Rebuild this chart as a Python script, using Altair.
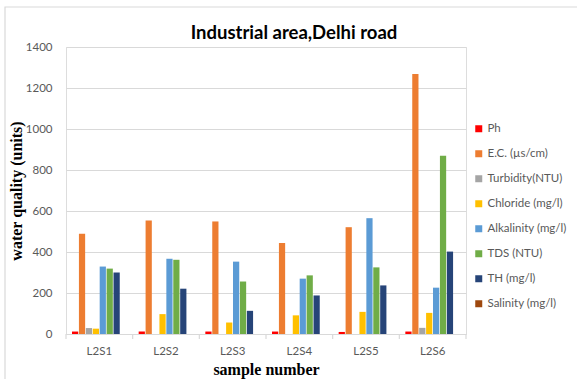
import altair as alt
import pandas as pd

samples = ["L2S1", "L2S2", "L2S3", "L2S4", "L2S5", "L2S6"]
params = ["Ph", "E.C. (µs/cm)", "Turbidity(NTU)", "Chloride (mg/l)",
          "Alkalinity (mg/l)", "TDS (NTU)", "TH (mg/l)", "Salinity (mg/l)"]
colors = ["#FF0000", "#ED7D31", "#A5A5A5", "#FFC000",
          "#5B9BD5", "#70AD47", "#264478", "#9E480E"]

ph = [12, 12, 12, 12, 10, 12]
ec = [489, 554, 549, 444, 521, 1268]
turbidity = [29, 0, 0, 0, 0, 30]
chloride = [26, 97, 56, 91, 108, 103]
alkalinity = [329, 367, 353, 270, 565, 226]
tds = [319, 362, 256, 286, 325, 869]
th = [300, 221, 113, 188, 237, 402]
salinity = [0, 0, 0, 0, 0, 0]

title_text = "Industrial area,Delhi road"

series = [ph, ec, turbidity, chloride, alkalinity, tds, th, salinity]
rows = []
for p, vals in zip(params, series):
    for s, v in zip(samples, vals):
        rows.append({"sample": s, "param": p, "value": v})
df = pd.DataFrame(rows)

y_ticks = [0, 200, 400, 600, 800, 1000, 1200, 1400]
LABEL_FONT = "Lato"
GRAY = "#595959"

bars = alt.Chart(df).mark_bar().encode(
    x=alt.X("sample:N", sort=samples,
            scale=alt.Scale(paddingInner=0.18, paddingOuter=0.09),
            axis=alt.Axis(title="sample number", labelAngle=0, ticks=False,
                          domainColor="#d9d9d9", domainWidth=1.2,
                          labelFont=LABEL_FONT, labelFontSize=11.5,
                          labelColor=GRAY, labelPadding=11,
                          titleFont="Liberation Serif", titleFontSize=16,
                          titleFontWeight="bold", titleColor="#000000",
                          titleY=40, titleBaseline="alphabetic")),
    xOffset=alt.XOffset("param:N", sort=params,
                        scale=alt.Scale(paddingInner=0.1)),
    y=alt.Y("value:Q",
            scale=alt.Scale(domain=[0, 1400], nice=False),
            axis=alt.Axis(title="water quality (units)", values=y_ticks,
                          format="d",
                          ticks=False, domain=False, gridColor="#d9d9d9",
                          gridWidth=1.2, labelFont=LABEL_FONT,
                          labelFontSize=11.5, labelColor=GRAY,
                          labelPadding=14, titleFont="Liberation Serif",
                          titleFontSize=16, titleFontWeight="bold",
                          titleColor="#000000", titleX=-50,
                          titleBaseline="middle")),
    color=alt.Color("param:N", sort=params,
                    scale=alt.Scale(domain=params, range=colors),
                    legend=alt.Legend(title=None, orient="none",
                                      legendX=407, legendY=76,
                                      symbolType="square", symbolSize=49,
                                      symbolStrokeWidth=0,
                                      labelFont=LABEL_FONT,
                                      labelFontSize=11.5, labelColor=GRAY,
                                      labelOffset=3, rowPadding=12,
                                      padding=0)),
)

boundaries = [0, 1, 2, 3, 4, 5, 6]
ticks = alt.Chart(pd.DataFrame({"pos": boundaries})).mark_rule(
    color="#d9d9d9", strokeWidth=1.2
).encode(
    x=alt.X("pos:Q", scale=alt.Scale(domain=[0, 6], nice=False, zero=False),
            axis=None),
    y=alt.value(287),
    y2=alt.value(292),
)

one = pd.DataFrame({"t": [title_text]})

border = alt.Chart(one).mark_rect(
    fill="white", fillOpacity=0, stroke="#d9d9d9", strokeWidth=1.2
).encode(
    x=alt.value(-61), x2=alt.value(520),
    y=alt.value(-40), y2=alt.value(345),
)

title = alt.Chart(one).mark_text(
    font=LABEL_FONT, fontSize=18.5, fontWeight="bold", color="#000000",
    align="center", baseline="alphabetic"
).encode(
    x=alt.value(228), y=alt.value(-8), text="t:N",
)

chart = alt.layer(border, bars, ticks, title).resolve_scale(x="independent").properties(
    width=400,
    height=287,
    padding={"left": 66, "top": 47, "right": 111, "bottom": 45},
    autosize=alt.AutoSizeParams(type="none"),
).configure_view(stroke=None).configure(background="white")

chart.save("out.html", embed_options={"renderer": "svg", "actions": False})
